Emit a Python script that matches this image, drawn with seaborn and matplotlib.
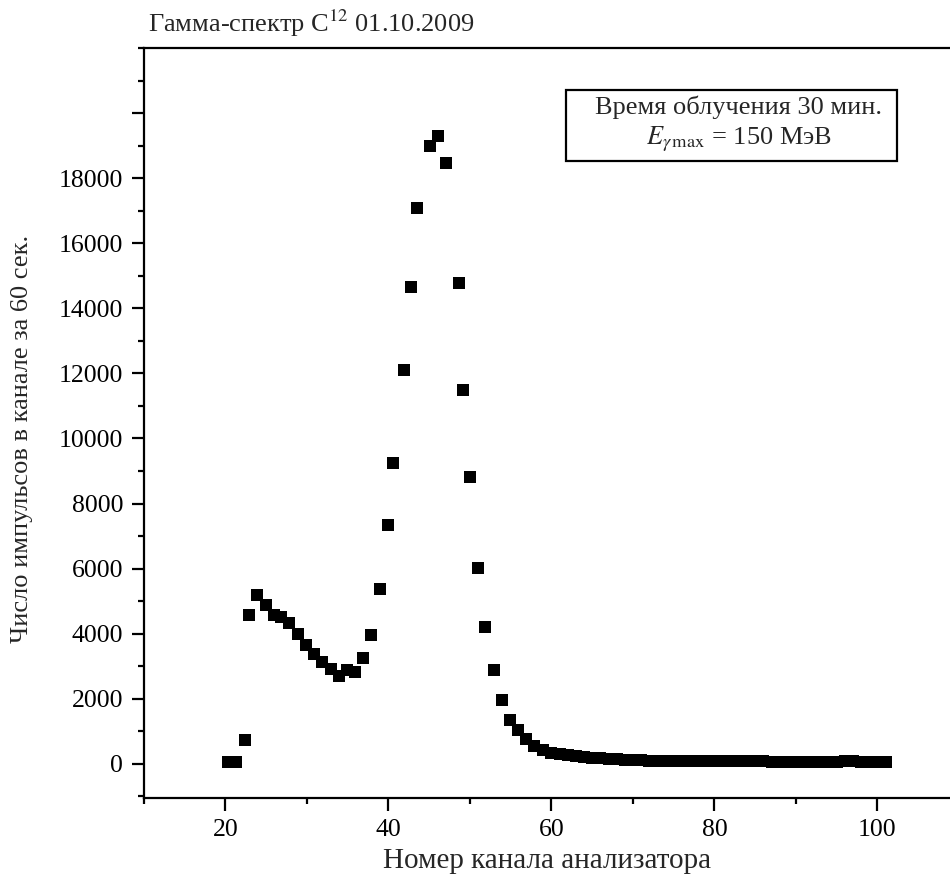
import numpy as np
import pandas as pd
import matplotlib
matplotlib.use("Agg")
import matplotlib.pyplot as plt
import seaborn as sns
from matplotlib.patches import Rectangle
from matplotlib.ticker import MultipleLocator, FixedLocator, FixedFormatter

# ---- data ----
channel = [20.3, 21.3, 22.45, 22.86, 23.84, 24.99, 25.9, 26.83, 27.85, 28.87,
           29.9, 30.9, 31.9, 32.97, 33.9, 34.9, 35.95, 36.85, 37.9, 38.98,
           39.9, 40.53, 41.93, 42.74, 43.47, 45.07, 46.05, 47.03, 48.67, 49.16,
           49.98, 50.96, 51.9, 52.9, 53.95, 54.93, 55.95, 56.9, 57.9, 58.9,
           59.96, 61, 62, 63, 64, 65, 66, 67, 68, 69,
           70, 71, 72, 73, 74, 75, 76, 77, 78, 79,
           80, 81, 82, 83, 84, 85, 86, 87, 88, 89,
           90, 91, 92, 93, 94, 95, 96, 97, 98, 99,
           100, 101]
counts = [50, 50, 720, 4585, 5180, 4870, 4565, 4510, 4320, 4000,
          3640, 3365, 3130, 2920, 2700, 2890, 2820, 3250, 3970, 5385,
          7350, 9260, 12100, 14660, 17070, 19000, 19310, 18460, 14790, 11500,
          8830, 6020, 4200, 2880, 1950, 1340, 1030, 750, 545, 440,
          340, 290, 260, 230, 205, 185, 165, 150, 135, 120,
          110, 105, 100, 95, 95, 90, 95, 100, 100, 95,
          90, 85, 90, 95, 85, 80, 75, 70, 70, 70,
          70, 70, 65, 70, 65, 60, 75, 80, 70, 60,
          55, 50]

y_ticks = [0, 2000, 4000, 6000, 8000, 10000, 12000, 14000, 16000, 18000, 20000]
y_tick_labels = ["0", "2000", "4000", "6000", "8000", "10000", "12000",
                 "14000", "16000", "18000", ""]
x_ticks = [20, 40, 60, 80, 100]

title = "Гамма-спектр C$^{12}$ 01.10.2009"
xlabel = "Номер канала анализатора"
ylabel = "Число импульсов в канале за 60 сек."
box_line1 = "Время облучения 30 мин."
box_line2 = "$E_{\\gamma\\,\\mathrm{max}}$ = 150 МэВ"

df = pd.DataFrame({"channel": channel, "counts": counts})

sns.set_theme(style="ticks")
plt.rcParams["font.family"] = ["Liberation Serif", "DejaVu Serif"]
plt.rcParams["mathtext.fontset"] = "stix"

fig = plt.figure(figsize=(9.5, 8.8), dpi=100)
ax = fig.add_axes([144 / 950, 1 - 798 / 880, 1 - 144 / 950, 750 / 880])

sns.scatterplot(data=df, x="channel", y="counts", marker="s", s=68,
                color="black", linewidth=0, ax=ax, legend=False)

ax.set_xlim(10, 108.9)
ax.set_ylim(-1050, 22000)

ax.xaxis.set_major_locator(FixedLocator(x_ticks))
ax.xaxis.set_minor_locator(MultipleLocator(10))
ax.yaxis.set_major_locator(FixedLocator(y_ticks))
ax.yaxis.set_major_formatter(FixedFormatter(y_tick_labels))
ax.yaxis.set_minor_locator(MultipleLocator(1000))

ax.tick_params(axis="both", which="major", direction="out", length=9,
               width=1.6, labelsize=18.5, colors="black", pad=6)
ax.tick_params(axis="x", which="major", pad=6)
ax.tick_params(axis="both", which="minor", direction="out", length=4.5,
               width=1.6, colors="black")

for side in ["left", "bottom", "top"]:
    ax.spines[side].set_visible(True)
    ax.spines[side].set_linewidth(1.6)
    ax.spines[side].set_color("black")
ax.spines["right"].set_visible(False)

ax.set_xlabel(xlabel, fontsize=21, labelpad=5)
ax.set_ylabel("")
fig.text(22 / 950, 1 - 439 / 880, ylabel, rotation=90, fontsize=19,
         ha="center", va="center")
fig.text(148 / 950, 1 - 23 / 880, title, fontsize=19, ha="left", va="center")

ax.add_patch(Rectangle((0.5236, 0.8493), 0.4106, 0.0947, transform=ax.transAxes,
                       fc="white", ec="black", lw=1.6, zorder=5))
ax.text(0.738, 0.921, box_line1, transform=ax.transAxes, fontsize=19,
        ha="center", va="center", zorder=6)
ax.text(0.738, 0.878, box_line2, transform=ax.transAxes, fontsize=19,
        ha="center", va="center", zorder=6)

fig.savefig("out.png", dpi=100)
